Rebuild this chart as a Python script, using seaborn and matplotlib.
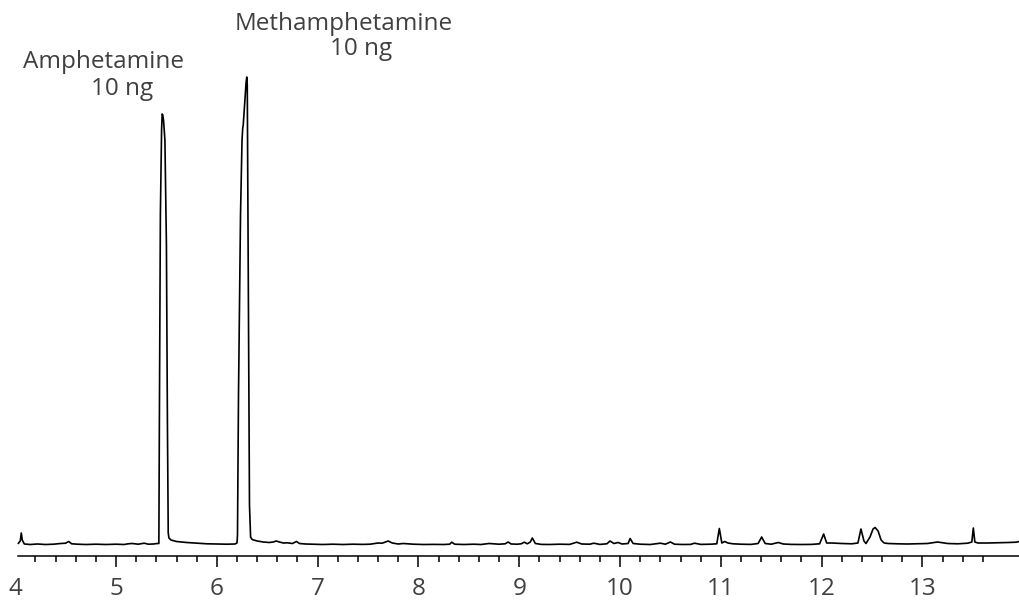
import numpy as np
import pandas as pd
import matplotlib
matplotlib.use("Agg")
import matplotlib.pyplot as plt
import seaborn as sns

# ---- data ----
retention_time = [
    4.03, 4.05, 4.06, 4.07, 4.09, 4.15, 4.22, 4.30, 4.38, 4.45, 4.50, 4.53, 4.56, 4.62,
    4.70, 4.80, 4.90, 5.00, 5.08, 5.12, 5.16, 5.22, 5.28, 5.32, 5.37, 5.41,
    5.425, 5.430, 5.440, 5.452, 5.458, 5.464, 5.472, 5.485, 5.500, 5.510, 5.518, 5.525,
    5.545, 5.60, 5.70, 5.80, 5.90, 6.00, 6.10, 6.18, 6.20,
    6.205, 6.215, 6.235, 6.250, 6.257, 6.262, 6.275, 6.290, 6.297, 6.302, 6.310, 6.318,
    6.324, 6.335, 6.35, 6.40, 6.46, 6.52, 6.56, 6.59, 6.62, 6.66, 6.70, 6.75, 6.79, 6.82,
    6.88, 6.95, 7.05, 7.15, 7.25, 7.35, 7.45, 7.52, 7.60, 7.64, 7.70, 7.74, 7.80, 7.85,
    7.95, 8.05, 8.15, 8.25, 8.31, 8.33, 8.36, 8.45, 8.55, 8.62, 8.70, 8.80, 8.86, 8.89,
    8.92, 8.98, 9.02, 9.05, 9.08, 9.11, 9.13, 9.16, 9.22, 9.30, 9.40, 9.50, 9.57, 9.62,
    9.70, 9.74, 9.80, 9.87, 9.90, 9.94, 9.98, 10.02, 10.08, 10.10, 10.13, 10.20, 10.30,
    10.40, 10.45, 10.50, 10.54, 10.62, 10.70, 10.74, 10.80, 10.90, 10.96, 10.985, 11.01,
    11.04, 11.07, 11.12, 11.20, 11.30, 11.37, 11.405, 11.44, 11.50, 11.57, 11.62, 11.70,
    11.80, 11.90, 11.98, 12.02, 12.05, 12.10, 12.20, 12.30, 12.36, 12.39, 12.42, 12.44,
    12.48, 12.51, 12.53, 12.56, 12.59, 12.62, 12.66, 12.75, 12.85, 12.95, 13.05, 13.15,
    13.25, 13.35, 13.45, 13.49, 13.505, 13.52, 13.55, 13.65, 13.75, 13.85, 13.93, 13.96,
]
signal = [
    1.5, 4, 12, 5, 1, 0.5, 1, 0.5, 0.8, 1.5, 1.8, 3.5, 1.2, 0.8,
    0.5, 0.8, 0.5, 0.8, 0.5, 1.2, 1.5, 0.8, 1.8, 0.8, 1, 1.5,
    1.5, 120, 330, 415, 431, 430, 424, 405, 300, 120, 12, 7,
    5, 3.5, 2.5, 1.8, 1.2, 1, 0.8, 1, 2,
    10, 150, 330, 405, 417, 420, 440, 462, 468, 460, 300, 150,
    40, 8, 5.5, 4, 3, 2.5, 3, 4, 3, 2, 2.2, 1.5, 3.5, 1.5,
    1, 0.8, 0.5, 0.8, 0.5, 0.8, 0.6, 0.8, 2, 1.8, 4, 2, 1, 1.5,
    0.8, 0.5, 0.6, 0.5, 0.8, 2.8, 0.8, 0.5, 0.8, 0.5, 1.5, 0.8, 1.2, 3,
    1, 0.8, 1.2, 2.8, 1.2, 3, 7, 1.5, 0.6, 0.5, 0.8, 0.6, 2.8, 1,
    0.8, 1.8, 0.6, 1.2, 4, 1.5, 2.5, 1, 1.5, 6.5, 1.5, 0.8, 0.5,
    1.8, 0.8, 3, 0.8, 0.5, 0.6, 1.8, 0.6, 0.8, 1.2, 16.5, 2,
    3.5, 2, 1.2, 0.8, 0.6, 1.5, 8, 1.5, 0.8, 2.5, 1, 0.6,
    0.5, 0.6, 1.2, 11, 2, 2, 1.5, 1.2, 2, 16, 4, 1.5,
    8, 16, 17.5, 14, 5, 2, 1.5, 1.2, 1, 1.2, 1.5, 3,
    1.5, 1.2, 1.8, 3, 17, 3, 2, 2, 2.2, 2.5, 2.8, 3.5,
]
major_ticks = [4, 5, 6, 7, 8, 9, 10, 11, 12, 13]
major_labels = ["4", "5", "6", "7", "8", "9", "10", "11", "12", "13"]
peak_names = ["Amphetamine", "Methamphetamine"]
peak_amounts = ["10 ng", "10 ng"]

df = pd.DataFrame({"time": retention_time, "signal": signal})

sns.set_theme(style="white")
plt.rcParams["font.family"] = ["Open Sans", "DejaVu Sans"]

text_color = "#404040"
fig = plt.figure(figsize=(10.19, 6.01), dpi=100)
ax = fig.add_axes([0, 45 / 601, 1, 556 / 601])

sns.lineplot(data=df, x="time", y="signal", ax=ax, color="black",
             linewidth=1.2, estimator=None, sort=False)

ax.set_xlim(3.849, 13.958)
ax.set_ylim(-11, 545)
ax.set_xlabel("")
ax.set_ylabel("")
ax.set_yticks([])

for side in ["top", "right", "left"]:
    ax.spines[side].set_visible(False)
ax.spines["bottom"].set_color("black")
ax.spines["bottom"].set_linewidth(1.1)
ax.spines["bottom"].set_bounds(4.03, 13.958)

ax.set_xticks(major_ticks)
ax.set_xticklabels(major_labels, fontsize=17.5, color=text_color)
minor = [m / 10 for m in range(42, 137, 2) if m % 10 != 0]
ax.set_xticks(minor, minor=True)
ax.tick_params(axis="x", which="major", direction="out", length=8, width=1.1,
               color="black", pad=7, bottom=True)
ax.tick_params(axis="x", which="minor", direction="out", length=4.3, width=1.1,
               color="black", bottom=True)
ax.xaxis.get_major_ticks()[0].tick1line.set_visible(False)

# peak annotations
ax.text(4.077, 477, peak_names[0], fontsize=17.5, color=text_color,
        ha="left", va="baseline", clip_on=False)
ax.text(4.753, 450, peak_amounts[0], fontsize=17.5, color=text_color,
        ha="left", va="baseline", clip_on=False)
ax.text(6.18, 515, peak_names[1], fontsize=17.5, color=text_color,
        ha="left", va="baseline", clip_on=False)
ax.text(7.12, 490, peak_amounts[1], fontsize=17.5, color=text_color,
        ha="left", va="baseline", clip_on=False)

fig.savefig("out.png", dpi=100)
